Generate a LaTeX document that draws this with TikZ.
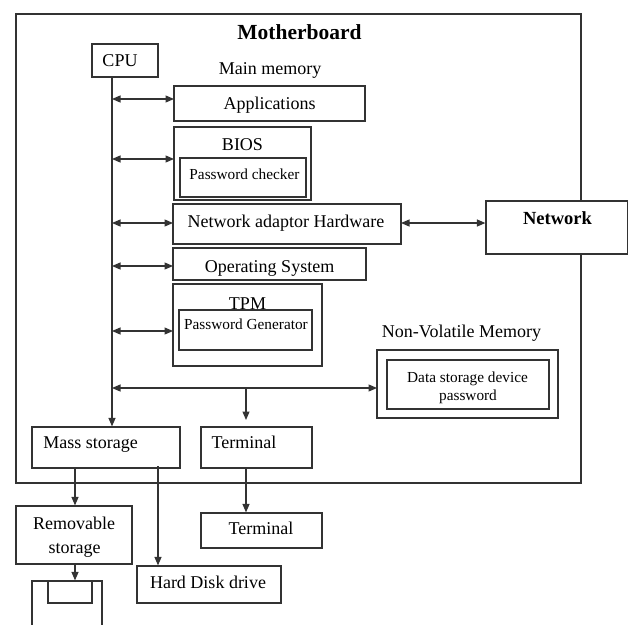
\documentclass[tikz,border=0pt]{standalone}
\usepackage{fontspec}
\setmainfont{Liberation Serif}
\usetikzlibrary{fit,arrows.meta}
\begin{document}
\begin{tikzpicture}[x=1pt,y=-1pt,
  box/.style={draw=black!80,line width=1.2pt,inner sep=0pt,fill=white},
  lbl/.style={anchor=base,inner sep=0pt,font=\fontsize{18}{20}\selectfont},
  small/.style={anchor=base,inner sep=0pt,font=\fontsize{15.3}{18}\selectfont},
  conn/.style={draw=black!80,line width=1.2pt},
  tip/.style={-{Triangle[length=8.5pt,width=7pt]}},
  dtip/.style={{Triangle[length=8.5pt,width=7pt]}-{Triangle[length=8.5pt,width=7pt]}},
]
\useasboundingbox (0,0) rectangle (628,624);

% motherboard frame
\node[box,fill=none,fit={(16,14) (581,483)}] (mb) {};
\node[lbl,font=\fontsize{21.5}{24}\selectfont\bfseries] (mbt) at (299.5,39) {Motherboard};

% CPU and main memory
\node[box,fit={(92,44) (158,77)}] (cpu) {};
\node[lbl] (cput) at (120,66) {CPU};
\node[lbl] (mmt) at (270,74) {Main memory};

\node[box,fit={(174,86) (365,121)}] (app) {};
\node[lbl] (appt) at (269.5,109) {Applications};

\node[box,fit={(174,127) (311,200)}] (bios) {};
\node[lbl] (biost) at (242.5,150) {BIOS};
\node[box,fit={(180,158) (306,197)}] (pwc) {};
\node[small] (pwct) at (244.5,179) {Password checker};

\node[box,fit={(173,204) (401,244)}] (nah) {};
\node[lbl] (naht) at (286,227) {Network adaptor Hardware};

\node[box,fit={(173,248) (366,280)}] (os) {};
\node[lbl] (ost) at (269.5,272) {Operating System};

\node[box,fit={(173,284) (322,366)}] (tpm) {};
\node[lbl] (tpmt) at (247.5,309) {TPM};
\node[box,fit={(179,310) (312,350)}] (pwg) {};
\node[small] (pwgt) at (246,329) {Password Generator};

% non-volatile memory
\node[lbl] (nvmt) at (461.5,337) {Non-Volatile Memory};
\node[box,fit={(377,350) (558,418)}] (nvm) {};
\node[box,fit={(387,360) (549,409)}] (dsp) {};
\node[small] (dspt1) at (467.5,382) {Data storage device};
\node[small] (dspt2) at (468,400) {password};

% network (over the frame edge)
\node[box,fit={(486,201) (628,254)}] (net) {};
\node[lbl,font=\fontsize{18.5}{21}\selectfont\bfseries] (nett) at (557.5,224) {Network};

% storage and terminals
\node[box,fit={(32,427) (180,468)}] (mass) {};
\node[lbl] (masst) at (90.5,448) {Mass storage};
\node[box,fit={(201,427) (312,468)}] (term) {};
\node[lbl] (termt) at (244,448) {Terminal};

\node[box,fit={(16,506) (132,564)}] (rem) {};
\node[lbl] (remt1) at (74,529) {Removable};
\node[lbl] (remt2) at (74.5,553) {storage};

\node[box,fit={(201,513) (322,548)}] (term2) {};
\node[lbl] (term2t) at (261,534) {Terminal};

\node[box,fit={(137,566) (281,603)}] (hdd) {};
\node[lbl] (hddt) at (208,588) {Hard Disk drive};

% floppy disk
\node[box,fit={(32,581) (102,640)}] (fd) {};
\node[box,fit={(48,581) (92,603)}] (fdw) {};

% bus and connectors
\coordinate (bus) at (112,0);
\draw[conn,tip] (bus |- cpu.south) -- (bus |- mass.north);

\coordinate (pApp) at (174,99);
\coordinate (pBios) at (174,159);
\coordinate (pNah) at (173,223);
\coordinate (pOs) at (173,266);
\coordinate (pTpm) at (173,331);
\coordinate (pNvm) at (377,388);
\draw[conn,dtip] (bus |- pApp) -- (pApp);
\draw[conn,dtip] (bus |- pBios) -- (pBios);
\draw[conn,dtip] (bus |- pNah) -- (pNah);
\draw[conn,dtip] (bus |- pOs) -- (pOs);
\draw[conn,dtip] (bus |- pTpm) -- (pTpm);
\draw[conn,dtip] (bus |- pNvm) -- (pNvm);

\coordinate (tBr) at (246,388);
\coordinate (tEnd) at (246,420);
\draw[conn,tip] (tBr) -- (tEnd);

\coordinate (nLeft) at (401,223);
\draw[conn,dtip] (nLeft) -- (nLeft -| net.west);

\coordinate (mRem) at (75,468);
\draw[conn,tip] (mRem) -- (mRem |- rem.north);
\coordinate (mHdd) at (158,466);
\draw[conn,tip] (mHdd) -- (mHdd |- hdd.north);
\coordinate (tDown) at (246,468);
\draw[conn,tip] (tDown) -- (tDown |- term2.north);
\coordinate (rDown) at (75,564);
\draw[conn,tip] (rDown) -- (rDown |- fd.north);
\end{tikzpicture}
\end{document}
